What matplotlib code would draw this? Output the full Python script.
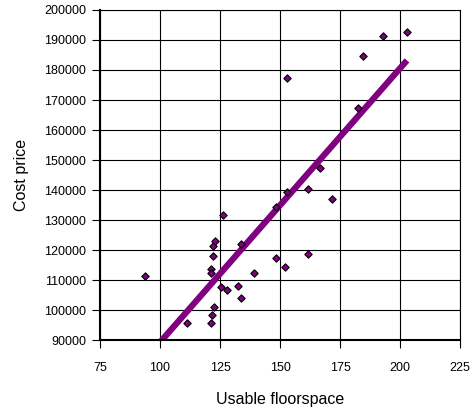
import numpy as np
import matplotlib
matplotlib.use("Agg")
import matplotlib.pyplot as plt

plt.rcParams['font.family'] = ['Liberation Sans', 'DejaVu Sans']

# Usable floorspace vs cost price
floorspace = [93.8, 111.3, 121.3, 121.8, 122.6, 121.1, 121.1, 122.1, 122.1, 122.9,
              126.4, 125.3, 128.1, 132.6, 133.6, 133.6, 139.2, 148.2, 148.3, 153.1,
              161.8, 171.7, 151.9, 161.8, 153.1, 184.7, 192.9, 202.9, 182.4, 166.8]
cost_price = [111300, 95700, 95700, 98300, 100900, 113600, 112300, 117900, 121300, 122900,
              131700, 107700, 106800, 108100, 104100, 121900, 112400, 134400, 117400, 139400,
              140200, 136900, 114200, 118800, 177400, 184800, 191300, 192600, 167200, 147200]

x_ticks = [75, 100, 125, 150, 175, 200, 225]
y_ticks = list(range(90000, 200001, 10000))

x = np.array(floorspace)
y = np.array(cost_price)

fig = plt.figure(figsize=(4.72, 4.11), dpi=100)
ax = fig.add_axes([100/472, 71/411, 360/472, 330/411])

# linear trend line over the data range
slope, intercept = np.polyfit(x, y, 1)
xs = np.array([x.min(), x.max()])
ax.plot(xs, slope * xs + intercept, color='#800080', lw=4.5, solid_capstyle='butt', zorder=2)

ax.scatter(x, y, marker='D', s=14, color='#800080', edgecolors='black', linewidths=0.8, zorder=3)

ax.set_xlim(75, 225)
ax.set_ylim(90000, 200000)
ax.set_xticks(x_ticks)
ax.set_yticks(y_ticks)
ax.grid(True, color='black', lw=0.8)
ax.set_axisbelow(True)
for s in ax.spines.values():
    s.set_color('black')
    s.set_linewidth(0.8)
ax.spines['left'].set_linewidth(1.5)
ax.spines['bottom'].set_linewidth(1.5)
ax.tick_params(direction='out', length=6, width=0.8, labelsize=9)
ax.tick_params(axis='x', pad=9.5)
ax.tick_params(axis='y', pad=4)

ax.set_xlabel('Usable floorspace', fontsize=11.5, labelpad=13)
ax.set_ylabel('Cost price', fontsize=11.5, labelpad=11)

fig.savefig('out.png', dpi=100)
